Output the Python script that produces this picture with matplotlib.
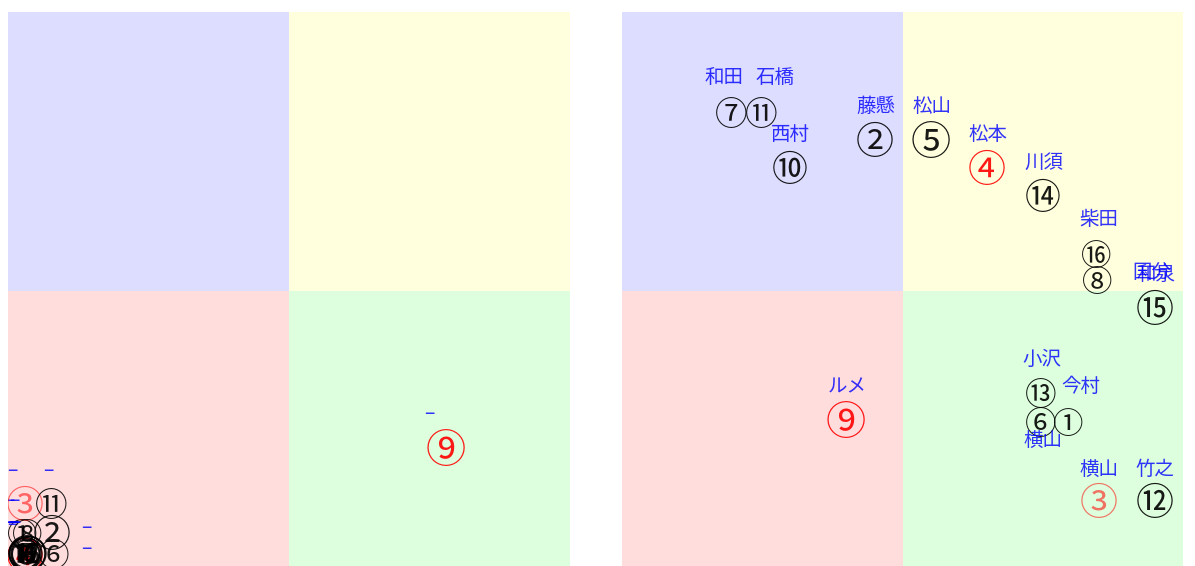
import matplotlib
matplotlib.use('Agg')
import matplotlib.pyplot as plt
from matplotlib.patches import Rectangle

# horse number -> name
numbers = [1, 2, 3, 4, 5, 6, 7, 8, 9, 10, 11, 12, 13, 14, 15, 16]
names = ['今村', '藤懸', '横山', '松本', '松山', '横山', '和田', '国分',
         'ルメ', '西村', '石橋', '竹之', '小沢', '川須', '和泉', '柴田']
# circle size of each marker (px across)
sizes = [28, 35, 35, 35, 37, 29, 30, 28, 37, 33, 30, 35, 29, 33, 35, 28]

# left panel (raw scale, most horses bunched in the corner)
left_x = [2.6, 7.7, 3.0, 3.0, 3.3, 8.2, 2.8, 3.4, 77.9, 3.2, 7.7, 3.5, 3.1, 2.9, 3.6, 3.3]
left_y = [6.8, 6.8, 12.0, 2.6, 3.0, 3.0, 3.0, 6.8, 22.0, 3.0, 12.0, 3.0, 3.0, 3.0, 3.0, 3.0]

# right panel (rescaled)
right_x = [79.5, 45.1, 85.0, 65.1, 55.1, 74.7, 19.4, 84.7, 39.9, 29.9, 24.8, 95.0, 74.7, 75.0, 95.0, 84.5]
right_y = [26.7, 77.1, 12.4, 72.2, 77.1, 26.7, 82.1, 52.0, 26.9, 72.2, 82.1, 12.4, 31.9, 67.2, 47.1, 56.8]

red_numbers = [4, 9]
pale_numbers = [3]

# label offsets in pixels (dx, dy down)
left_offsets = {1: (-13, -34), 2: (35, -7), 3: (-13, -35), 6: (32, -7), 8: (-13, -34),
                9: (-16, -36), 11: (-3, -35)}
right_offsets = {7: (-7, -36), 11: (14, -36), 16: (3, -36), 8: (55, -9),
                 1: (13, -37), 6: (2, 17), 3: (0, -33), 12: (0, -33)}

QUAD = ['#ddddff', '#ffffdd', '#ffdddd', '#ddffdd']
NUM_FONT = ['Noto Sans CJK JP', 'DejaVu Sans']
LABEL_FONT = ['Noto Sans CJK JP', 'DejaVu Sans']


def draw_panel(ax, xs, ys, labels, offsets, default_off):
    ax.set_xlim(0, 100)
    ax.set_ylim(0, 100)
    ax.add_patch(Rectangle((0, 50), 50, 50, color=QUAD[0], lw=0))
    ax.add_patch(Rectangle((50, 50), 50, 50, color=QUAD[1], lw=0))
    ax.add_patch(Rectangle((0, 0), 50, 50, color=QUAD[2], lw=0))
    ax.add_patch(Rectangle((50, 0), 50, 50, color=QUAD[3], lw=0))
    ax.axis('off')
    for n, x, y, lab, s in zip(numbers, xs, ys, labels, sizes):
        if n in red_numbers:
            c, a = 'red', 0.9
        elif n in pale_numbers:
            c, a = 'red', 0.55
        else:
            c, a = 'black', 0.9
        ax.annotate(chr(0x2460 + n - 1), (x, y), xytext=(0, -4), textcoords='offset pixels',
                    fontsize=s / 1.278, color=c, alpha=a, ha='center', va='center',
                    family=NUM_FONT, annotation_clip=False, clip_on=True)
        dx, dy = offsets.get(n, default_off)
        ax.annotate(lab, (x, y), xytext=(dx, -dy - 2), textcoords='offset pixels',
                    fontsize=14, color='blue', alpha=0.8, ha='center', va='center',
                    family=LABEL_FONT, annotation_clip=False, clip_on=True)


fig = plt.figure(figsize=(11.95, 5.66), dpi=100)
ax1 = fig.add_axes([8 / 1195, -4 / 566, 562 / 1195, 558 / 566])
ax2 = fig.add_axes([622 / 1195, -4 / 566, 561 / 1195, 558 / 566])

draw_panel(ax1, left_x, left_y, ['–'] * len(numbers), left_offsets, (-13, -33))
draw_panel(ax2, right_x, right_y, names, right_offsets, (1, -35))

fig.savefig('out.png', dpi=100)
